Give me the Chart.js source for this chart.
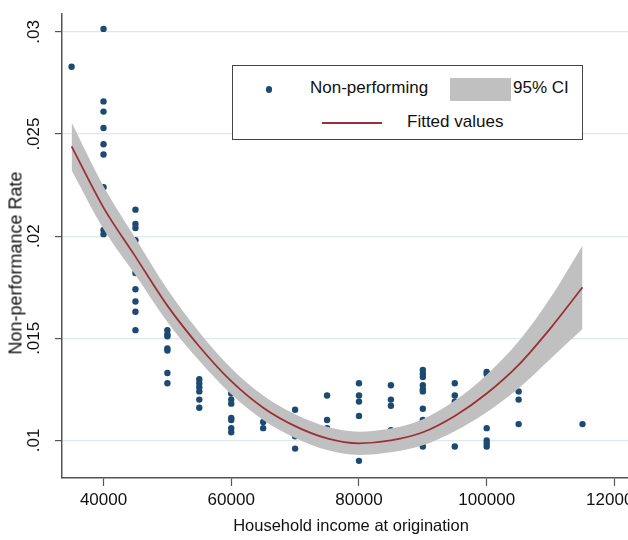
<!DOCTYPE html>
<html>
<head>
<meta charset="utf-8">
<script src="https://cdn.jsdelivr.net/npm/chart.js@4/dist/chart.umd.min.js"></script>
<style>
  html, body { margin: 0; padding: 0; background: #fff; }
  #frame { position: relative; width: 628px; height: 540px; overflow: hidden; }
  #box { position: absolute; left: 0; top: 0; width: 700px; height: 540px; }
  #legend {
    position: absolute; left: 232px; top: 65px; width: 349px; height: 73px;
    border: 1px solid #444; background: #fff;
    font-family: "Liberation Sans", Arial, sans-serif; font-size: 17px; color: #111;
  }
  #legend span { position: absolute; white-space: nowrap; line-height: 20px; }
  #legend i { position: absolute; display: block; }
  #ytitle {
    position: absolute; left: 16px; top: 263px; white-space: nowrap;
    font-family: "Liberation Sans", Arial, sans-serif; font-size: 18px; color: #111;
    transform: translate(-50%, -50%) rotate(-90deg);
  }
</style>
</head>
<body>
<div id="frame">
  <div id="box"><canvas id="chart"></canvas></div>
  <div id="ytitle">Non-performance Rate</div>
  <div id="legend">
    <i style="left:33px;top:20px;width:6px;height:7px;border-radius:3px;background:#1d4a72"></i>
    <span style="left:77px;top:12px">Non-performing</span>
    <i style="left:217px;top:12px;width:61px;height:23px;background:#c0c0c0"></i>
    <span style="left:280px;top:12px">95% CI</span>
    <i style="left:89px;top:56px;width:60px;height:2px;background:#9c3038"></i>
    <span style="left:174px;top:46px">Fitted values</span>
  </div>
</div>
<script>
// fitted curve and CI band, read every 5000
const incomeGrid = [35000, 40000, 45000, 50000, 55000, 60000, 65000, 70000, 75000, 80000, 85000, 90000, 95000, 100000, 105000, 110000, 115000];
const fittedRate = [0.0244, 0.0214, 0.0190, 0.0166, 0.0146, 0.0129, 0.0116, 0.0107, 0.0101, 0.00986, 0.0100, 0.0104, 0.0112, 0.0123, 0.0137, 0.0155, 0.0175];
const ciUpper = [0.02557, 0.02245, 0.0199, 0.0174, 0.0153, 0.01354, 0.0122, 0.01128, 0.01067, 0.01043, 0.01058, 0.01104, 0.01195, 0.01322, 0.01485, 0.0170, 0.01955];
const ciLower = [0.02323, 0.02035, 0.0181, 0.0158, 0.0139, 0.01226, 0.0110, 0.01012, 0.00953, 0.00929, 0.00942, 0.00976, 0.01045, 0.01138, 0.01255, 0.0140, 0.01545];

// scatter: non-performing rate by household income
const pointIncome = [
  35000,
  40000, 40000, 40000, 40000, 40000, 40000, 40000, 40000, 40000,
  45000, 45000, 45000, 45000, 45000, 45000, 45000, 45000, 45000,
  50000, 50000, 50000, 50000, 50000, 50000, 50000, 50000,
  55000, 55000, 55000, 55000, 55000, 55000,
  60000, 60000, 60000, 60000, 60000, 60000, 60000,
  65000, 65000,
  70000, 70000, 70000,
  75000, 75000, 75000,
  80000, 80000, 80000, 80000, 80000,
  85000, 85000, 85000, 85000,
  90000, 90000, 90000, 90000, 90000, 90000, 90000, 90000, 90000,
  95000, 95000, 95000, 95000,
  100000, 100000, 100000, 100000, 100000, 100000,
  105000, 105000, 105000,
  115000
];
const pointRate = [
  0.0283,
  0.03015, 0.0266, 0.0261, 0.0253, 0.0245, 0.0240, 0.0224, 0.0203, 0.0201,
  0.0213, 0.0206, 0.0204, 0.0198, 0.0182, 0.0174, 0.0168, 0.0163, 0.0154,
  0.0170, 0.0154, 0.0152, 0.0151, 0.0145, 0.0144, 0.0133, 0.0128,
  0.0130, 0.0128, 0.0126, 0.0124, 0.0120, 0.0116,
  0.0123, 0.0120, 0.0118, 0.0111, 0.0110, 0.0106, 0.0104,
  0.0109, 0.0106,
  0.0115, 0.0102, 0.0096,
  0.0122, 0.0110, 0.0106,
  0.0128, 0.0122, 0.0119, 0.0112, 0.0090,
  0.0127, 0.0120, 0.0117, 0.0105,
  0.01345, 0.01325, 0.0131, 0.0127, 0.0125, 0.0124, 0.01155, 0.0110, 0.0097,
  0.0128, 0.0122, 0.0119, 0.0097,
  0.01335, 0.01325, 0.0106, 0.0100, 0.00985, 0.0097,
  0.0124, 0.0120, 0.0108,
  0.0108
];

const xTicks = [40000, 60000, 80000, 100000, 120000];
const yTicks = [0.01, 0.015, 0.02, 0.025, 0.03];

const pts = (xs, ys) => xs.map((x, i) => ({ x: x, y: ys[i] }));

Chart.defaults.font.family = '"Liberation Sans", Arial, sans-serif';
Chart.defaults.color = '#111';

new Chart(document.getElementById('chart'), {
  type: 'line',
  data: {
    datasets: [
      {
        label: 'Fitted values',
        data: pts(incomeGrid, fittedRate),
        borderColor: '#9c3038',
        borderWidth: 1.8,
        pointRadius: 0,
        cubicInterpolationMode: 'monotone',
        fill: false,
        order: 0
      },
      {
        label: '95% CI',
        data: pts(incomeGrid, ciUpper),
        borderWidth: 0,
        borderColor: 'rgba(0,0,0,0)',
        backgroundColor: '#c0c0c0',
        pointRadius: 0,
        cubicInterpolationMode: 'monotone',
        fill: '+1',
        order: 1
      },
      {
        label: 'ci lower',
        data: pts(incomeGrid, ciLower),
        borderWidth: 0,
        borderColor: 'rgba(0,0,0,0)',
        pointRadius: 0,
        cubicInterpolationMode: 'monotone',
        fill: false,
        order: 1
      },
      {
        label: 'Non-performing',
        data: pts(pointIncome, pointRate),
        showLine: false,
        pointRadius: 3.2,
        pointBorderWidth: 0,
        pointBackgroundColor: '#1d4a72',
        order: 2
      }
    ]
  },
  options: {
    responsive: true,
    maintainAspectRatio: false,
    animation: false,
    layout: { padding: { top: 10, right: 60, bottom: 0, left: 0 } },
    plugins: { legend: { display: false }, tooltip: { enabled: false } },
    scales: {
      x: {
        type: 'linear',
        min: 33500,
        max: 124000,
        afterBuildTicks: s => { s.ticks = xTicks.map(v => ({ value: v })); },
        afterFit: s => { s.height = 62; },
        ticks: { font: { size: 17 }, padding: 4, maxRotation: 0, callback: v => String(v) },
        grid: { drawOnChartArea: false, drawTicks: true, tickLength: 8, tickColor: '#555', tickWidth: 1.2 },
        border: { color: '#555', width: 1.5 },
        title: { display: true, text: 'Household income at origination', font: { size: 16.5 }, padding: { top: 0, bottom: 4 } }
      },
      y: {
        min: 0.00816,
        max: 0.03087,
        afterBuildTicks: s => { s.ticks = yTicks.map(v => ({ value: v })); },
        afterFit: s => { s.width = 62; },
        ticks: {
          font: { size: 17 },
          padding: 4,
          minRotation: 90,
          maxRotation: 90,
          crossAlign: 'center',
          callback: v => String(+v.toFixed(3)).replace(/^0/, '')
        },
        grid: { color: '#dde8ee', lineWidth: 1.2, tickLength: 7, tickColor: '#555', tickWidth: 1.2 },
        border: { color: '#555', width: 1.5 }
      }
    }
  }
});
</script>
</body>
</html>
